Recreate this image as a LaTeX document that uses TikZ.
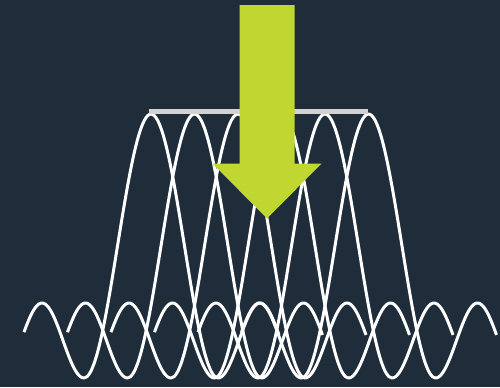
\documentclass[tikz,border=0pt]{standalone}
\usetikzlibrary{arrows.meta, positioning}

\definecolor{navy}{HTML}{1F2D3A}
\definecolor{lime}{HTML}{BFD730}
\definecolor{barcol}{HTML}{D2D2D2}

\begin{document}
\begin{tikzpicture}[
    x=0.02cm, y=-0.02cm,
    wave/.style={draw=white, line width=1.7pt, line join=round, smooth, samples=41},
    barline/.style={draw=barcol, line width=2.85pt},
    bigarrow/.style={fill=lime}
]
\fill[navy] (0,0) rectangle (500,387);

% one wave per peak
\foreach \p in {151,194.5,238,281.5,325,368.5} {
  \draw[wave]
    plot[domain=\p-127:\p-67] (\x, {340.5-37.5*cos(180*(\x-\p+109)/42)})
    -- plot[domain=\p-67:\p+67] (\x, {246-132*cos(180*(\x-\p)/67)})
    -- plot[domain=\p+67:\p+128] (\x, {340.5-37.5*cos(180*(\x-\p-109)/42)});
}

\coordinate (barL) at (149,111.5);
\coordinate (barR) at (368,111.5);
\draw[barline] (barL) -- (barR);

\fill[bigarrow] (239.5,5) -- (294.5,5) -- (294.5,163.5) -- (321.5,163.5)
  -- (267,218.5) -- (212.5,163.5) -- (239.5,163.5) -- cycle;
\end{tikzpicture}
\end{document}
